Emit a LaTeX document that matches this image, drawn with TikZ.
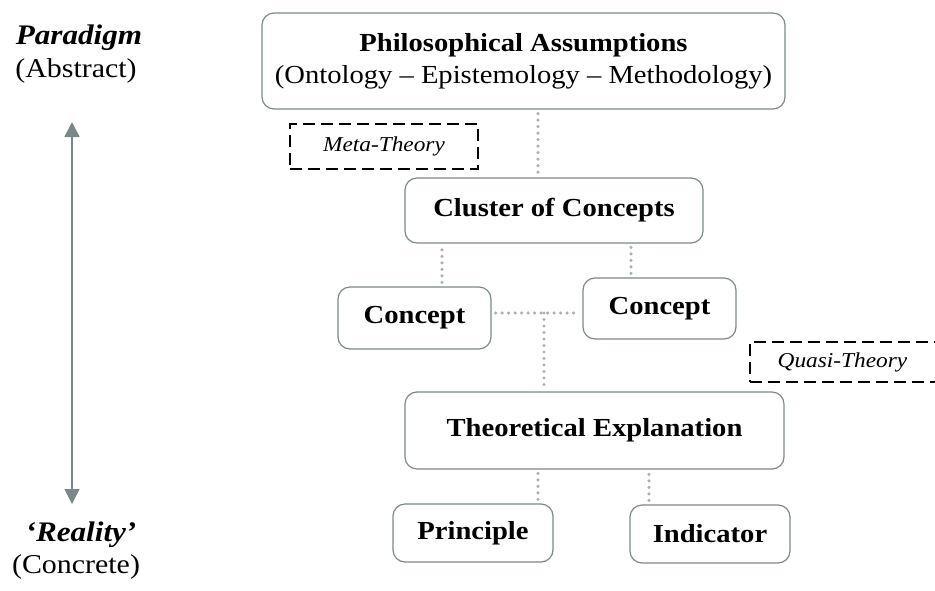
\documentclass[tikz,border=0pt]{standalone}
\usepackage{fontspec}
\setmainfont{Liberation Serif}[FakeStretch=1.1]
\usetikzlibrary{arrows.meta}

\definecolor{boxgray}{RGB}{124,137,139}
\definecolor{dotgray}{RGB}{168,177,179}
\definecolor{axisgray}{RGB}{122,136,137}

\tikzset{
  card/.style={draw=boxgray, line width=1.2pt, rounded corners=12pt, fill=white,
    inner sep=0pt, align=center, font=\fontsize{26}{32}\selectfont\bfseries},
  theorybox/.style={draw=black, line width=1.8pt, dash pattern=on 12pt off 6pt,
    inner sep=0pt, font=\fontsize{21.2}{24}\selectfont\itshape},
  dotline/.style={draw=dotgray, line width=3.4pt, line cap=round,
    dash pattern=on 0pt off 6.5pt, shorten <=4pt, shorten >=3pt},
  sidehead/.style={font=\fontsize{28.3}{30}\selectfont\bfseries\itshape, anchor=base},
  sidesub/.style={font=\fontsize{27.2}{30}\selectfont, anchor=base},
  axis/.style={draw=axisgray, line width=1.5pt,
    {Triangle[length=15pt,width=15pt]}-{Triangle[length=15pt,width=15pt]}, fill=axisgray},
}

\begin{document}
\begin{tikzpicture}[x=1pt, y=-1pt]
  \useasboundingbox (0,0) rectangle (935,590);
  \clip (0,0) rectangle (935,590);

  % abstraction axis on the left
  \node[sidehead] (par) at (79,44) {Paradigm};
  \node[sidesub] (abs) at (76,77) {(Abstract)};
  \node[sidehead] (rea) at (81,541) {‘Reality’};
  \node[sidesub] (con) at (76,573) {(Concrete)};
  \coordinate (axtop) at (72,122);
  \coordinate (axbot) at (72,504);
  \draw[axis] (axtop) -- (axbot);

  % hierarchy of boxes
  \node[card, minimum width=523pt, minimum height=96pt] (phil) at (523.5,61)
    {Philosophical Assumptions\\{\mdseries (Ontology – Epistemology – Methodology)}};
  \node[theorybox, minimum width=188pt, minimum height=45pt] (meta) at (384,146.5) {Meta-Theory};
  \node[card, minimum width=298pt, minimum height=65pt] (clu) at (554,210.5) {Cluster of Concepts};
  \node[card, minimum width=153pt, minimum height=62pt] (conL) at (414.5,318) {Concept};
  \node[card, minimum width=153pt, minimum height=61pt] (conR) at (659.5,308.5) {Concept};
  \node[theorybox, minimum width=195pt, minimum height=40pt] (quasi) at (847.5,362) {\hspace*{-10pt}Quasi-Theory};
  \node[card, minimum width=379pt, minimum height=77pt] (theo) at (594.5,430.5)
    {\raisebox{6pt}{Theoretical Explanation}};
  \node[card, minimum width=160pt, minimum height=58pt] (pri) at (473,533) {Principle};
  \node[card, minimum width=160pt, minimum height=58pt] (ind) at (710,534) {Indicator};

  % dotted links
  \draw[dotline] ([xshift=14.5pt]phil.south) -- ([xshift=14.5pt]phil.south |- clu.north);
  \draw[dotline] ([xshift=27.5pt]conL.north) -- ([xshift=27.5pt]conL.north |- clu.south);
  \draw[dotline] ([xshift=-28.5pt]conR.north) -- ([xshift=-28.5pt]conR.north |- clu.south);
  \coordinate (join) at (544,313);
  \draw[dotline] (conL.east |- join) -- (conR.west |- join);
  \draw[dotline, shorten <=0pt] (join) -- (theo.north -| join);
  \draw[dotline] ([xshift=65pt]pri.north) -- ([xshift=65pt]pri.north |- theo.south);
  \draw[dotline] ([xshift=-61pt]ind.north) -- ([xshift=-61pt]ind.north |- theo.south);
\end{tikzpicture}
\end{document}
